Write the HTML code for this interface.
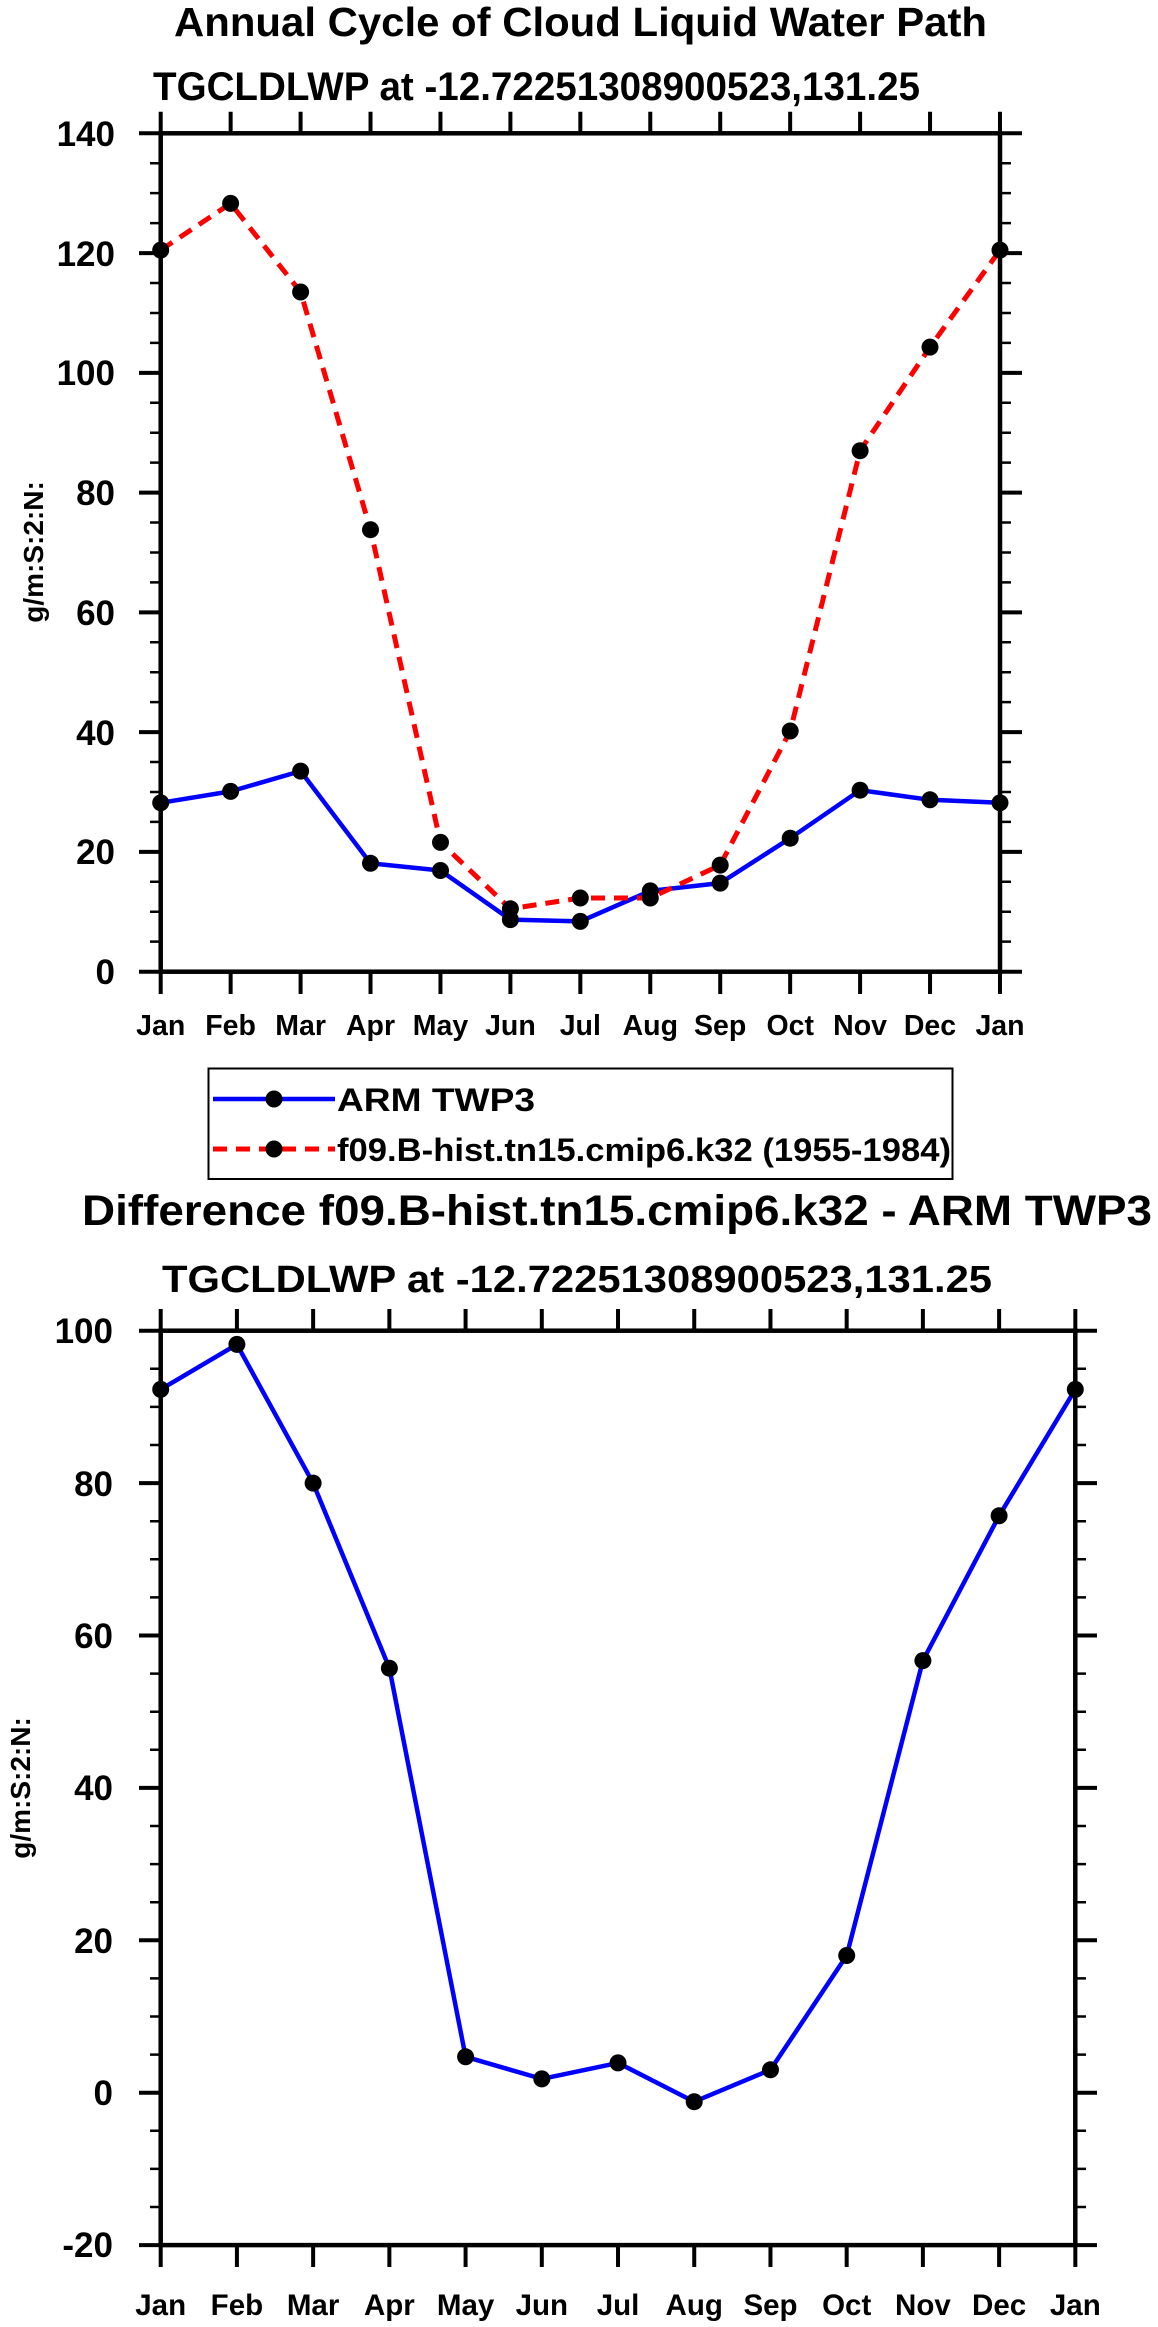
<!DOCTYPE html>
<html><head><meta charset="utf-8"><style>
html,body{margin:0;padding:0;background:#fff;}
svg{display:block;font-family:"Liberation Sans",Arial,sans-serif;font-weight:bold;}
</style></head><body>
<svg width="1158" height="2327" viewBox="0 0 1158 2327" xmlns="http://www.w3.org/2000/svg">
<rect width="1158" height="2327" fill="#fff"/>
<!-- ===== TOP PLOT ===== -->
<text x="174" y="36" font-size="41" textLength="813" lengthAdjust="spacingAndGlyphs">Annual Cycle of Cloud Liquid Water Path</text>
<text x="153" y="100" font-size="40" textLength="767" lengthAdjust="spacingAndGlyphs">TGCLDLWP at -12.72251308900523,131.25</text>
<g stroke="#000" fill="none">
<rect x="160.7" y="133.3" width="839.3" height="838.4" stroke-width="4.5"/>
<line x1="155.5" y1="132.05" x2="155.5" y2="973" stroke-width="11" stroke-dasharray="2.5 27.44"/>
<line x1="1005.5" y1="132.05" x2="1005.5" y2="973" stroke-width="11" stroke-dasharray="2.5 27.44"/>
<line x1="150" y1="131.3" x2="150" y2="974" stroke-width="22" stroke-dasharray="4 115.77"/>
<line x1="1011" y1="131.3" x2="1011" y2="974" stroke-width="22" stroke-dasharray="4 115.77"/>
<line x1="158.7" y1="122.5" x2="1003" y2="122.5" stroke-width="21.6" stroke-dasharray="4 65.94"/>
<line x1="158.7" y1="983" x2="1003" y2="983" stroke-width="22" stroke-dasharray="4 65.94"/>
</g>
<g font-size="35" text-anchor="end">
<text x="115" y="984">0</text><text x="115" y="864">20</text><text x="115" y="745">40</text><text x="115" y="625">60</text><text x="115" y="505">80</text><text x="115" y="385">100</text><text x="115" y="266">120</text><text x="115" y="146">140</text>
</g>
<g font-size="28.5" text-anchor="middle">
<text x="160.7" y="1035">Jan</text><text x="230.6" y="1035">Feb</text><text x="300.6" y="1035">Mar</text><text x="370.5" y="1035">Apr</text><text x="440.5" y="1035">May</text><text x="510.4" y="1035">Jun</text><text x="580.3" y="1035">Jul</text><text x="650.3" y="1035">Aug</text><text x="720.2" y="1035">Sep</text><text x="790.2" y="1035">Oct</text><text x="860.1" y="1035">Nov</text><text x="930" y="1035">Dec</text><text x="1000" y="1035">Jan</text>
</g>
<text transform="translate(43,552) rotate(-90)" font-size="28" text-anchor="middle">g/m:S:2:N:</text>
<polyline fill="none" stroke="#0000ff" stroke-width="4.5" stroke-linejoin="round" points="160.7,802.8 230.6,791.4 300.6,771.1 370.5,863.3 440.5,870.5 510.4,919.6 580.3,921.4 650.3,890.9 720.2,883.1 790.2,838.2 860.1,790.2 930,799.8 1000,802.8"/>
<polyline fill="none" stroke="#ff0000" stroke-width="5" stroke-dasharray="14 9" points="160.7,250.1 230.6,203.4 300.6,292 370.5,529.7 440.5,842.4 510.4,908.8 580.3,898 650.3,898 720.2,865.1 790.2,731 860.1,450.7 930,347.1 1000,250.1"/>
<g fill="#000">
<circle cx="160.7" cy="802.8" r="8.5"/><circle cx="230.6" cy="791.4" r="8.5"/><circle cx="300.6" cy="771.1" r="8.5"/><circle cx="370.5" cy="863.3" r="8.5"/><circle cx="440.5" cy="870.5" r="8.5"/><circle cx="510.4" cy="919.6" r="8.5"/><circle cx="580.3" cy="921.4" r="8.5"/><circle cx="650.3" cy="890.9" r="8.5"/><circle cx="720.2" cy="883.1" r="8.5"/><circle cx="790.2" cy="838.2" r="8.5"/><circle cx="860.1" cy="790.2" r="8.5"/><circle cx="930" cy="799.8" r="8.5"/><circle cx="1000" cy="802.8" r="8.5"/>
<circle cx="160.7" cy="250.1" r="8.5"/><circle cx="230.6" cy="203.4" r="8.5"/><circle cx="300.6" cy="292" r="8.5"/><circle cx="370.5" cy="529.7" r="8.5"/><circle cx="440.5" cy="842.4" r="8.5"/><circle cx="510.4" cy="908.8" r="8.5"/><circle cx="580.3" cy="898" r="8.5"/><circle cx="650.3" cy="898" r="8.5"/><circle cx="720.2" cy="865.1" r="8.5"/><circle cx="790.2" cy="731" r="8.5"/><circle cx="860.1" cy="450.7" r="8.5"/><circle cx="930" cy="347.1" r="8.5"/><circle cx="1000" cy="250.1" r="8.5"/>
</g>
<!-- ===== LEGEND ===== -->
<rect x="208.5" y="1068.5" width="744" height="110.5" fill="none" stroke="#000" stroke-width="2"/>
<line x1="213" y1="1099" x2="335" y2="1099" stroke="#0000ff" stroke-width="4.5"/>
<circle cx="274" cy="1099" r="8.5" fill="#000"/>
<text x="337" y="1111" font-size="32" textLength="198" lengthAdjust="spacingAndGlyphs">ARM TWP3</text>
<line x1="213" y1="1149" x2="335" y2="1149" stroke="#ff0000" stroke-width="5" stroke-dasharray="14 9"/>
<circle cx="274" cy="1149" r="8.5" fill="#000"/>
<text x="337" y="1161" font-size="32" textLength="614" lengthAdjust="spacingAndGlyphs">f09.B-hist.tn15.cmip6.k32 (1955-1984)</text>
<!-- ===== BOTTOM PLOT ===== -->
<text x="82" y="1225" font-size="43" textLength="1070" lengthAdjust="spacingAndGlyphs">Difference f09.B-hist.tn15.cmip6.k32 - ARM TWP3</text>
<text x="162" y="1292" font-size="38" textLength="830" lengthAdjust="spacingAndGlyphs">TGCLDLWP at -12.72251308900523,131.25</text>
<g stroke="#000" fill="none">
<rect x="160.7" y="1330.7" width="914.6" height="914.4" stroke-width="4.5"/>
<line x1="155.5" y1="1329.45" x2="155.5" y2="2246.5" stroke-width="11" stroke-dasharray="2.5 35.6"/>
<line x1="1080.5" y1="1329.45" x2="1080.5" y2="2246.5" stroke-width="11" stroke-dasharray="2.5 35.6"/>
<line x1="150" y1="1328.7" x2="150" y2="2248" stroke-width="22" stroke-dasharray="4 148.4"/>
<line x1="1086" y1="1328.7" x2="1086" y2="2248" stroke-width="22" stroke-dasharray="4 148.4"/>
<line x1="158.7" y1="1320" x2="1078" y2="1320" stroke-width="22" stroke-dasharray="4 72.22"/>
<line x1="158.7" y1="2256" x2="1078" y2="2256" stroke-width="22" stroke-dasharray="4 72.22"/>
</g>
<g font-size="35" text-anchor="end">
<text x="113" y="1343">100</text><text x="113" y="1496">80</text><text x="113" y="1648">60</text><text x="113" y="1800">40</text><text x="113" y="1953">20</text><text x="113" y="2105">0</text><text x="113" y="2257">-20</text>
</g>
<g font-size="29.5" text-anchor="middle">
<text x="160.7" y="2315">Jan</text><text x="236.9" y="2315">Feb</text><text x="313.1" y="2315">Mar</text><text x="389.4" y="2315">Apr</text><text x="465.6" y="2315">May</text><text x="541.8" y="2315">Jun</text><text x="618" y="2315">Jul</text><text x="694.2" y="2315">Aug</text><text x="770.5" y="2315">Sep</text><text x="846.7" y="2315">Oct</text><text x="922.9" y="2315">Nov</text><text x="999.1" y="2315">Dec</text><text x="1075.3" y="2315">Jan</text>
</g>
<text transform="translate(30,1788) rotate(-90)" font-size="28" text-anchor="middle">g/m:S:2:N:</text>
<polyline fill="none" stroke="#0000ff" stroke-width="4.5" stroke-linejoin="round" points="160.7,1389.4 236.9,1344.4 313.1,1483.1 389.4,1668.2 465.6,2056.8 541.8,2078.9 618,2062.9 694.2,2101.7 770.5,2069.8 846.7,1955.5 922.9,1660.6 999.1,1515.8 1075.3,1389.4"/>
<g fill="#000">
<circle cx="160.7" cy="1389.4" r="8.5"/><circle cx="236.9" cy="1344.4" r="8.5"/><circle cx="313.1" cy="1483.1" r="8.5"/><circle cx="389.4" cy="1668.2" r="8.5"/><circle cx="465.6" cy="2056.8" r="8.5"/><circle cx="541.8" cy="2078.9" r="8.5"/><circle cx="618" cy="2062.9" r="8.5"/><circle cx="694.2" cy="2101.7" r="8.5"/><circle cx="770.5" cy="2069.8" r="8.5"/><circle cx="846.7" cy="1955.5" r="8.5"/><circle cx="922.9" cy="1660.6" r="8.5"/><circle cx="999.1" cy="1515.8" r="8.5"/><circle cx="1075.3" cy="1389.4" r="8.5"/>
</g>
</svg>
</body></html>
